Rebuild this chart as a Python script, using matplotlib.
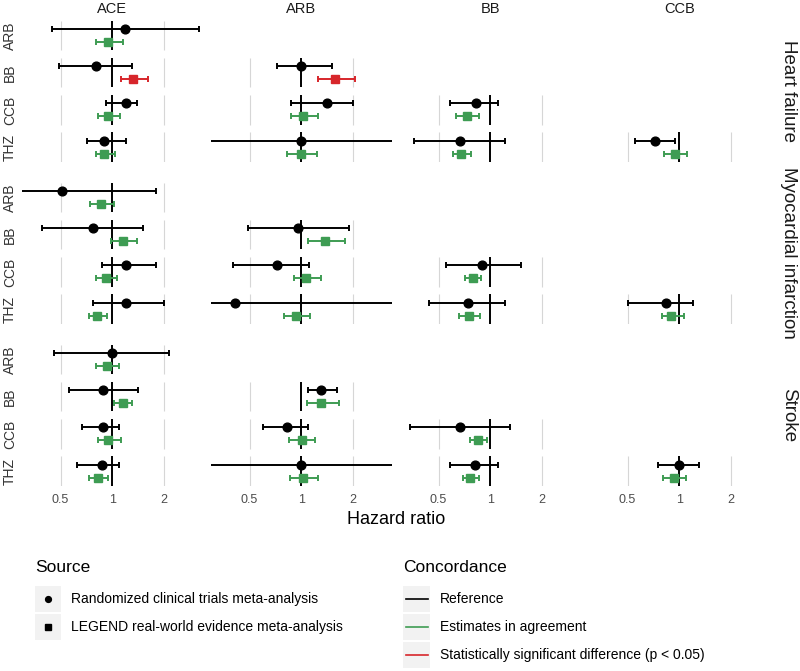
import matplotlib
matplotlib.use("Agg")
import matplotlib.pyplot as plt
from matplotlib.patches import Rectangle

plt.rcParams['font.family'] = ['Liberation Sans', 'DejaVu Sans']

outcomes = ["Heart failure", "Myocardial infarction", "Stroke"]
targets = ["ARB", "BB", "CCB", "THZ"]
comparators = ["ACE", "ARB", "BB", "CCB"]

# one entry per (outcome, target, comparator) estimate pair
outcome = ["Heart failure"] * 10 + ["Myocardial infarction"] * 10 + ["Stroke"] * 10
target = ["ARB", "BB", "BB", "CCB", "CCB", "CCB", "THZ", "THZ", "THZ", "THZ"] * 3
comparator = ["ACE", "ACE", "ARB", "ACE", "ARB", "BB", "ACE", "ARB", "BB", "CCB"] * 3

rct_hr = [1.19, 0.80, 1.00, 1.20, 1.41, 0.83, 0.90, 1.00, 0.67, 0.72,
          0.51, 0.77, 0.96, 1.20, 0.72, 0.90, 1.20, 0.41, 0.74, 0.84,
          1.00, 0.89, 1.30, 0.88, 0.83, 0.67, 0.87, 1.00, 0.82, 1.00]
rct_lo = [0.445, 0.49, 0.72, 0.92, 0.87, 0.58, 0.71, 0.20, 0.36, 0.55,
          0.25, 0.39, 0.49, 0.87, 0.40, 0.55, 0.77, 0.10, 0.44, 0.50,
          0.46, 0.56, 1.09, 0.67, 0.60, 0.34, 0.62, 0.20, 0.58, 0.75]
rct_hi = [3.22, 1.31, 1.51, 1.40, 2.01, 1.11, 1.20, 5.00, 1.22, 0.95,
          1.81, 1.51, 1.91, 1.81, 1.11, 1.52, 2.01, 4.00, 1.22, 1.20,
          2.13, 1.41, 1.61, 1.10, 1.10, 1.31, 1.10, 5.00, 1.11, 1.31]

leg_hr = [0.95, 1.33, 1.57, 0.94, 1.02, 0.73, 0.90, 1.00, 0.68, 0.94,
          0.86, 1.16, 1.38, 0.92, 1.07, 0.79, 0.82, 0.93, 0.75, 0.90,
          0.93, 1.15, 1.31, 0.95, 1.01, 0.85, 0.83, 1.02, 0.76, 0.93]
leg_lo = [0.80, 1.12, 1.25, 0.83, 0.87, 0.63, 0.80, 0.83, 0.61, 0.82,
          0.74, 0.99, 1.09, 0.81, 0.91, 0.71, 0.73, 0.79, 0.66, 0.79,
          0.80, 1.03, 1.08, 0.83, 0.85, 0.76, 0.73, 0.86, 0.69, 0.81]
leg_hi = [1.15, 1.61, 2.07, 1.11, 1.26, 0.86, 1.04, 1.23, 0.77, 1.11,
          1.02, 1.39, 1.81, 1.06, 1.30, 0.89, 0.93, 1.13, 0.87, 1.06,
          1.10, 1.30, 1.67, 1.13, 1.21, 0.96, 0.94, 1.26, 0.86, 1.09]
significant = [False, True, True] + [False] * 27

GREEN = "#3e9c53"
RED = "#d7262b"
GRID = "#d6d6d6"

W, H = 800, 671
fig = plt.figure(figsize=(W / 100, H / 100), dpi=100)

# layout in pixels
col_left, col_w, col_step = 21.7, 181.0, 189.0
row_top0, row_pitch, half, grp_step = 35.5, 37.2, 14.7, 162.0
off = 6.5 / row_pitch
hh = half / row_pitch
xlim = (0.297, 3.37)

for g, oc in enumerate(outcomes):
    top_px = row_top0 - half + g * grp_step
    h_px = 3 * row_pitch + 2 * half
    for c, comp in enumerate(comparators):
        ax = fig.add_axes([(col_left + c * col_step) / W, 1 - (top_px + h_px) / H,
                           col_w / W, h_px / H])
        ax.set_xscale("log")
        ax.set_xlim(*xlim)
        ax.set_ylim(3 + hh, -hh)
        for s in ax.spines.values():
            s.set_visible(False)
        ax.set_yticks([])
        ax.set_xticks([0.5, 1, 2])
        ax.xaxis.set_minor_locator(plt.NullLocator())
        if g == len(outcomes) - 1:
            ax.set_xticklabels(["0.5", "1", "2"], fontsize=9, color="#4d4d4d")
        else:
            ax.set_xticklabels([])
        ax.tick_params(axis="x", length=0, pad=6)
        ax.patch.set_alpha(0)

        for i in range(len(rct_hr)):
            if outcome[i] != oc or comparator[i] != comp:
                continue
            r = targets.index(target[i])
            ax.vlines([0.5, 2], r - hh, r + hh, color=GRID, lw=0.8, zorder=1)
            ax.vlines(1, r - hh, r + hh, color="black", lw=1.4, zorder=2)
            ax.errorbar(rct_hr[i], r - off,
                        xerr=[[rct_hr[i] - rct_lo[i]], [rct_hi[i] - rct_hr[i]]],
                        fmt="o", color="black", ms=6.3, lw=1.4, capsize=2.3,
                        capthick=1.4, zorder=3)
            col = RED if significant[i] else GREEN
            ax.errorbar(leg_hr[i], r + off,
                        xerr=[[leg_hr[i] - leg_lo[i]], [leg_hi[i] - leg_hr[i]]],
                        fmt="s", color=col, ms=5.8, lw=1.4, capsize=2.3,
                        capthick=1.4, zorder=3)

        # row labels on the left
        if c == 0:
            for r, t in enumerate(targets):
                fig.text(10 / W, 1 - (row_top0 + g * grp_step + r * row_pitch) / H, t,
                         rotation=90, ha="center", va="center", fontsize=10,
                         color="#333333")
    fig.text(789 / W, 1 - (top_px + h_px / 2) / H, oc, rotation=-90,
             ha="center", va="center", fontsize=13.5, color="#1a1a1a")

for c, comp in enumerate(comparators):
    fig.text((col_left + c * col_step + col_w / 2) / W, 1 - 9 / H, comp,
             ha="center", va="center", fontsize=10.5, color="#1a1a1a")

fig.text(396 / W, 1 - 519 / H, "Hazard ratio", ha="center", va="center",
         fontsize=13, color="black")

# legends drawn in a pixel-space overlay
lax = fig.add_axes([0, 0, 1, 1])
lax.set_xlim(0, W)
lax.set_ylim(H, 0)
lax.axis("off")

lax.text(35, 567, "Source", fontsize=12.5, va="center", ha="left")
src_labels = ["Randomized clinical trials meta-analysis",
              "LEGEND real-world evidence meta-analysis"]
src_markers = ["o", "s"]
for k, (lab, mk) in enumerate(zip(src_labels, src_markers)):
    y0 = 586 + k * 28
    lax.add_patch(Rectangle((35, y0), 26, 26, color="#f2f2f2", lw=0))
    lax.plot([48], [y0 + 13], marker=mk, color="black", ms=4.2)
    lax.text(71, y0 + 13, lab, fontsize=10, va="center", ha="left")

lax.text(403, 567, "Concordance", fontsize=12.5, va="center", ha="left")
conc_labels = ["Reference", "Estimates in agreement",
               "Statistically significant difference (p < 0.05)"]
conc_colors = ["black", GREEN, RED]
for k, (lab, cc) in enumerate(zip(conc_labels, conc_colors)):
    y0 = 586 + k * 28
    lax.add_patch(Rectangle((403, y0), 27, 26, color="#f2f2f2", lw=0))
    lax.plot([405.5, 427.5], [y0 + 13, y0 + 13], color=cc, lw=1.2)
    lax.text(440, y0 + 13, lab, fontsize=10, va="center", ha="left")

fig.savefig("out.png", dpi=100)
